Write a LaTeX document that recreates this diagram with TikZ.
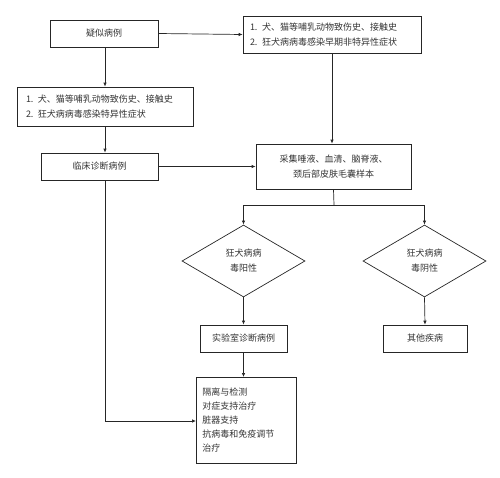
\documentclass[tikz,border=0pt]{standalone}
\usepackage{fontspec}
\setmainfont{Noto Sans CJK SC}
\usetikzlibrary{shapes.geometric,arrows.meta}
\begin{document}
\begin{tikzpicture}[x=1pt,y=-1pt,
  every node/.style={font=\fontsize{9}{14.5}\selectfont, text=black!80},
  box/.style={draw=black!85, line width=0.7pt, inner sep=0pt, align=center},
  lbox/.style={draw=black!85, line width=0.7pt, inner ysep=0pt, align=left},
  dia/.style={diamond, draw=black!85, line width=0.7pt, inner sep=0pt, minimum width=123pt, minimum height=72pt, align=center, font=\fontsize{9}{15}\selectfont},
  arr/.style={draw=black!85, line width=0.7pt, -{Latex[length=4pt,width=3.5pt]}},
  ln/.style={draw=black!85, line width=0.7pt}]
\useasboundingbox (0,0) rectangle (500,477);
\node[box, minimum width=108pt, minimum height=27pt] (a) at (104,33.5) {疑似病例};
\node[lbox, minimum width=178pt, minimum height=37pt, inner xsep=7pt, text width=164pt] (b) at (332,34.5) {1. 犬、猫等哺乳动物致伤史、接触史\\2. 狂犬病病毒感染早期非特异性症状};
\node[lbox, minimum width=176pt, minimum height=39pt, inner xsep=9pt, text width=158pt] (c) at (105,106.5) {1. 犬、猫等哺乳动物致伤史、接触史\\2. 狂犬病病毒感染特异性症状};
\node[box, minimum width=117pt, minimum height=27pt] (d) at (99.5,166.5) {临床诊断病例};
\node[box, minimum width=155pt, minimum height=45pt] (e) at (333.5,166.5) {采集唾液、血清、脑脊液、\\颈后部皮肤毛囊样本};
\node[dia] (f) at (243.5,261) {狂犬病病\\毒阳性};
\node[dia] (g) at (424.5,261) {狂犬病病\\毒阴性};
\node[box, minimum width=87pt, minimum height=27pt] (h) at (243.5,338.5) {实验室诊断病例};
\node[box, minimum width=84pt, minimum height=27pt] (i) at (425,338.5) {其他疾病};
\node[lbox, minimum width=96pt, minimum height=86pt, anchor=north west, text width=88pt, inner xsep=6pt, inner ysep=8pt, font=\fontsize{9}{14}\selectfont] (j) at (196,377) {隔离与检测\\对症支持治疗\\脏器支持\\抗病毒和免疫调节\\治疗};
\coordinate (s) at (334,205);
\coordinate (sl) at (243.5,205);
\coordinate (sr) at (424.5,205);
\coordinate (k) at (105,421);
\draw[arr] (a.east) -- (b.west);
\draw[arr] (a.south -| c.north) -- (c.north);
\draw[arr] (c.south) -- (c.south |- d.north);
\draw[arr] (d.east) -- (e.west);
\draw[arr] (b.south) -- (b.south |- e.north);
\draw[ln] (e.south) -- (s);
\draw[arr] (sr) -- (sl) -- (f.north);
\draw[arr] (sl) -- (sr) -- (g.north);
\draw[arr] (f.south) -- (h.north);
\draw[arr] (g.south) -- (i.north);
\draw[arr] (h.south) -- (h.south |- j.north);
\draw[arr] (d.south -| k) -- (k) -- (k -| j.west);
\end{tikzpicture}
\end{document}
